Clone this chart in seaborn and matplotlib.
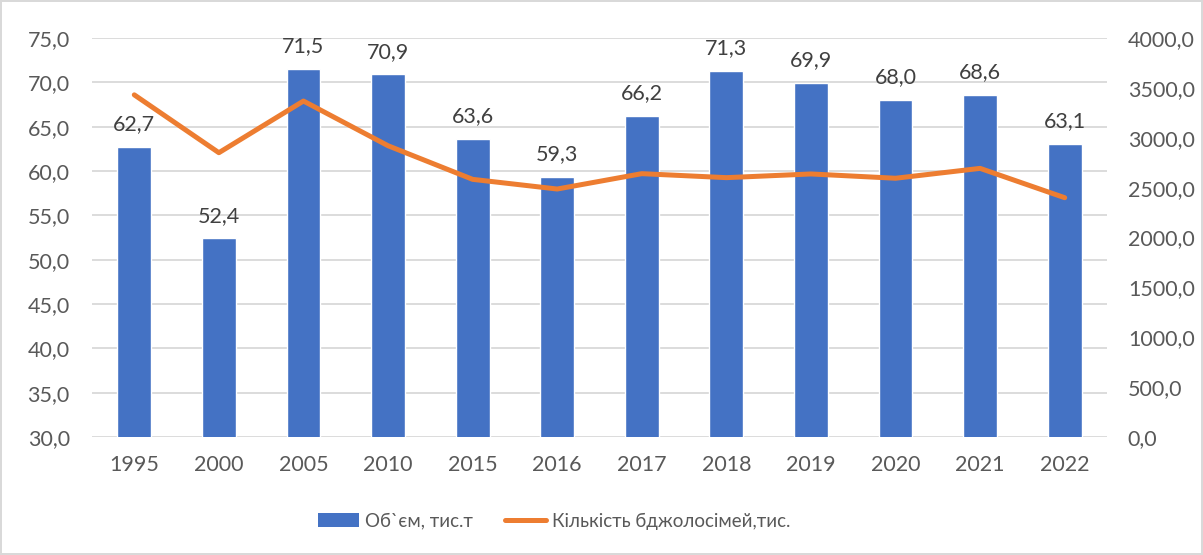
import numpy as np
import pandas as pd
import matplotlib
matplotlib.use("Agg")
import matplotlib.pyplot as plt
from matplotlib.ticker import FuncFormatter, MultipleLocator
from matplotlib.patches import Patch
from matplotlib.lines import Line2D
import seaborn as sns

years = ["1995", "2000", "2005", "2010", "2015", "2016", "2017", "2018", "2019", "2020", "2021", "2022"]
volume = [62.7, 52.4, 71.5, 70.9, 63.6, 59.3, 66.2, 71.3, 69.9, 68.0, 68.6, 63.1]
colonies = [3430, 2850, 3368, 2920, 2583, 2486, 2640, 2600, 2637, 2594, 2693, 2399]
label_volume = "Об`єм, тис.т"
label_colonies = "Кількість бджолосімей,тис."

BAR = "#4472C4"
LINE = "#ED7D31"
TXT = "#595959"
GRID = "#D9D9D9"
FS = 15.5
LFS = 13.5

sns.set_theme(style="white")
plt.rcParams["font.family"] = ["Lato", "DejaVu Sans"]

df = pd.DataFrame({"year": years, "volume": volume, "colonies": colonies})

fig = plt.figure(figsize=(12.03, 5.55), dpi=100)
fig.patch.set_edgecolor(GRID)
fig.patch.set_linewidth(1.5)
ax = fig.add_axes([92/1203, 1-437/555, (1107-92)/1203, (437-38)/555])

sns.barplot(data=df, x="year", y="volume", color=BAR, width=0.4, ax=ax,
            saturation=1, zorder=2)
ax.set_ylim(30, 75)
ax.yaxis.set_major_locator(MultipleLocator(5))
fmt = FuncFormatter(lambda v, p: f"{v:.1f}".replace(".", ","))
ax.yaxis.set_major_formatter(fmt)
ax.grid(axis="y", color=GRID, linewidth=1.3, zorder=0)
ax.set_axisbelow(True)
for s in ax.spines.values():
    s.set_visible(False)
ax.set_xlabel("")
ax.set_ylabel("")
ax.tick_params(axis="both", length=0, labelsize=FS, colors=TXT)
ax.tick_params(axis="x", pad=13)
ax.tick_params(axis="y", pad=16)

for i, v in enumerate(volume):
    ax.annotate(f"{v:.1f}".replace(".", ","), (i, v), xytext=(0, 12),
                textcoords="offset points", ha="center", va="baseline",
                fontsize=FS, color="#404040")

ax2 = ax.twinx()
sns.pointplot(data=df, x="year", y="colonies", color=LINE, markers="",
              linestyles="-", ax=ax2, linewidth=3.6)
for l in ax2.lines:
    l.set_solid_capstyle("round")
    l.set_solid_joinstyle("round")
ax2.set_ylim(0, 4000)
ax2.yaxis.set_major_locator(MultipleLocator(500))
ax2.yaxis.set_major_formatter(fmt)
for s in ax2.spines.values():
    s.set_visible(False)
ax2.set_xlabel("")
ax2.set_ylabel("")
ax2.grid(False)
ax2.tick_params(axis="y", length=0, labelsize=FS, colors=TXT, pad=15)
ax.set_xlim(-0.5, len(years) - 0.5)
ax2.set_xlim(-0.5, len(years) - 0.5)

handles = [Patch(facecolor=BAR, edgecolor="none"),
           Line2D([0], [0], color=LINE, linewidth=3.6, solid_capstyle="round")]
fig.legend(handles, [label_volume, label_colonies], loc="center",
           bbox_to_anchor=(554/1203, 1-521/555), ncol=2, frameon=False,
           fontsize=LFS, labelcolor=TXT, handlelength=2.2, handletextpad=0.3,
           columnspacing=1.7, handleheight=0.75)

fig.savefig("out.png", dpi=100, edgecolor=fig.get_edgecolor())
